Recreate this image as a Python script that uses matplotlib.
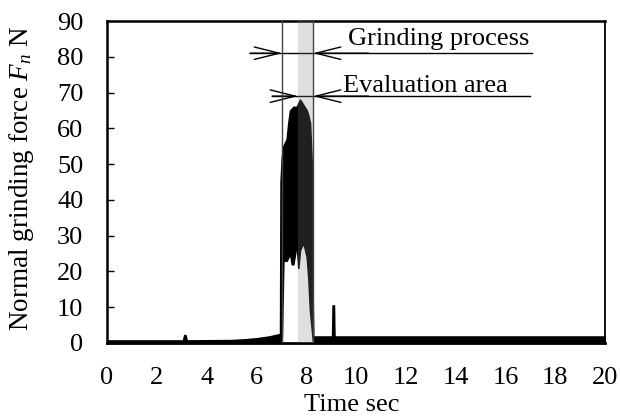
import matplotlib
matplotlib.use("Agg")
import matplotlib.pyplot as plt

plt.rcParams['font.family'] = ['Liberation Serif', 'DejaVu Serif']
plt.rcParams['mathtext.fontset'] = 'custom'
plt.rcParams['mathtext.rm'] = 'Liberation Serif'
plt.rcParams['mathtext.it'] = 'Liberation Serif:italic'

# Signal envelope (time in s, force in N)
time = [0.0, 3.05, 3.1, 3.15, 3.2, 5.0, 5.5, 6.0, 6.5, 6.95,
        6.97, 7.02, 7.08, 7.215, 7.28, 7.35, 7.42, 7.48, 7.62, 7.68,
        7.75, 7.885, 8.02, 8.085, 8.15, 8.22, 8.26, 8.28,
        9.04, 9.06, 9.11, 9.13, 20.0]
upper = [0.7, 0.7, 2.2, 2.2, 0.7, 0.8, 1.0, 1.3, 1.8, 2.5,
         45, 52, 55, 57, 61.5, 65, 65.5, 66, 66, 67,
         68, 66.5, 65, 63.5, 61.5, 50, 10, 1.8,
         1.8, 10.5, 10.5, 1.8, 1.8]
lower = [0, 0, 0, 0, 0, 0, 0, 0, 0, 0,
         0, 2, 23, 23, 24, 25, 22, 22, 28, 21,
         26, 28, 24, 18, 9, 4, 1, 0,
         0, 0, 0, 0, 0]

process_start, process_end = 7.03, 8.27
eval_start, eval_end = 7.67, 8.27
xticks = list(range(0, 21, 2))
yticks = list(range(0, 91, 10))

FS = 19
fig = plt.figure(figsize=(6.2, 4.16), dpi=100)
ax = fig.add_axes([0.1726, 0.1755, 0.8034, 0.774])

ax.fill_between(time, lower, upper, color='black', lw=1.2, edgecolor='black')
ax.axvspan(eval_start, eval_end, color='#818181', alpha=0.25, lw=0, zorder=3)
for xv in (process_start, process_end):
    ax.axvline(xv, color='#444444', lw=1.0, zorder=4)

ap = dict(arrowstyle='->,head_length=1.8,head_width=0.45', lw=1.0,
          color='black', mutation_scale=10, shrinkA=0, shrinkB=0)
# Grinding process
yg = 81
ax.plot([5.74, 17.07], [yg, yg], color='black', lw=1.0)
ax.annotate('', xy=(process_start, yg), xytext=(5.74, yg), arrowprops=ap)
ax.annotate('', xy=(process_end, yg), xytext=(10.5, yg), arrowprops=ap)
ax.text(9.68, 83.3, 'Grinding process', fontsize=FS, va='baseline', ha='left')
# Evaluation area
ye = 69
ax.plot([6.63, 16.99], [ye, ye], color='black', lw=1.0)
ax.annotate('', xy=(eval_start, ye), xytext=(6.63, ye), arrowprops=ap)
ax.annotate('', xy=(eval_end, ye), xytext=(10.5, ye), arrowprops=ap)
ax.text(9.48, 70.2, 'Evaluation area', fontsize=FS, va='baseline', ha='left')

ax.set_xlim(0, 20)
ax.set_ylim(0, 90)
ax.set_xticks(xticks)
ax.set_yticks(yticks)
ax.tick_params(axis='y', direction='in', length=5, width=1, labelsize=FS, pad=17)
ax.tick_params(axis='x', direction='in', length=0, labelsize=FS, pad=17)
for s in ('left', 'top'):
    ax.spines[s].set_linewidth(1.8)
ax.spines['right'].set_linewidth(1.3)
ax.spines['bottom'].set_linewidth(2.0)

ax.set_xlabel('Time sec', fontsize=FS)
ax.xaxis.set_label_coords(0.492, -0.158)
ax.xaxis.label.set_va('top')
ax.set_ylabel('Normal grinding force $\\mathit{F_n}$ N', fontsize=19.5)
ax.yaxis.set_label_coords(-0.142, 0.51)

fig.savefig('out.png', dpi=100)
